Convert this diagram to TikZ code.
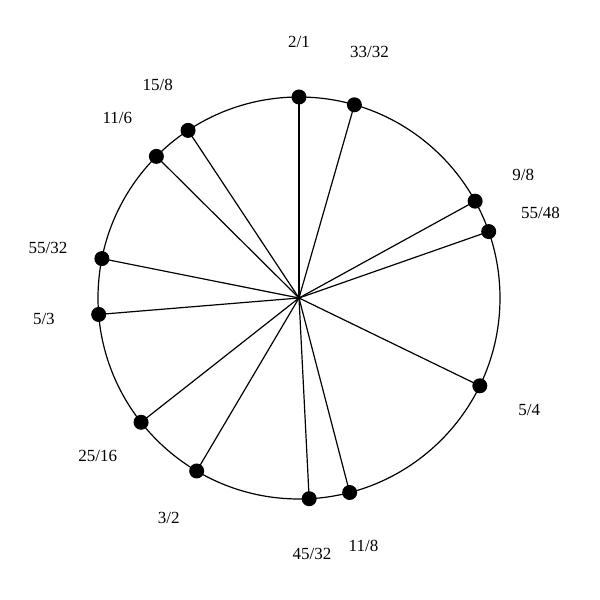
\documentclass[tikz,border=0pt]{standalone}
\usepackage{fontspec}
\setmainfont{Liberation Serif}
\usetikzlibrary{calc}
\begin{document}
\begin{tikzpicture}[x=1pt,y=1pt,
  ray/.style={line width=1.2pt},
  dotmark/.style={circle,fill=black,inner sep=0pt,minimum size=15pt},
  lbl/.style={font=\fontsize{17}{20}\selectfont,inner sep=0pt}]
\useasboundingbox (0,0) rectangle (600,600);
\coordinate (ctr) at (299,302);
\draw[line width=1.2pt] (ctr) circle[radius=201];
\foreach \n/\a/\t in {
  a/90/2\slash 1, b/74/33\slash 32, c/28.8/9\slash 8, d/19.3/55\slash 48,
  e/-25.9/5\slash 4, f/-75.4/11\slash 8, g/-87.1/45\slash 32, h/-120.6/3\slash 2,
  i/-141.8/25\slash 16, j/-175.3/5\slash 3, k/168.7/55\slash 32, l/135.2/11\slash 6,
  m/123.5/15\slash 8} {
  \node[dotmark] (p\n) at ($(ctr)+(\a:201)$) {};
  \draw[ray] (ctr) -- (p\n.center);
  \node[lbl] (t\n) at ($(ctr)+(\a:256)$) {\t};
}
\end{tikzpicture}
\end{document}
